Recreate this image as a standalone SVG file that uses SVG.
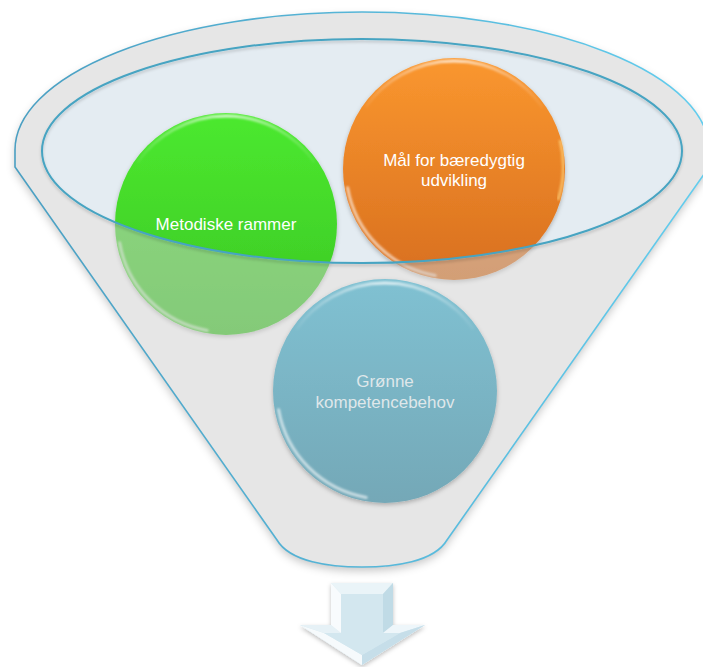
<svg xmlns="http://www.w3.org/2000/svg" width="703" height="667" viewBox="0 0 703 667">
<style>
.lbl{font-family:"Liberation Sans",Arial,sans-serif;font-size:17px;text-anchor:middle}
.w{fill:#ffffff}
.b{fill:#dfe7ea}
.rim{fill:none;stroke:#47a4c2;stroke-width:2}
.outline{fill:none;stroke:url(#outlineGrad);stroke-width:1.6}
.glossTop{fill:none;stroke:url(#glossTopGrad);stroke-width:3}
.glossBot{fill:none;stroke:#ffffff;stroke-opacity:0.6;stroke-width:3;stroke-linecap:round}
</style>
<defs>
<filter id="shadow" x="-10%" y="-10%" width="120%" height="125%">
<feDropShadow dx="0" dy="4" stdDeviation="4" flood-color="#000" flood-opacity="0.22"/>
</filter>
<filter id="cshadow" x="-10%" y="-10%" width="120%" height="125%">
<feDropShadow dx="0" dy="2" stdDeviation="2" flood-color="#000" flood-opacity="0.25"/>
</filter>
<filter id="rimShadow" x="-5%" y="-10%" width="110%" height="125%">
<feDropShadow dx="0" dy="2" stdDeviation="1.5" flood-color="#000" flood-opacity="0.2"/>
</filter>
<filter id="soft"><feGaussianBlur stdDeviation="0.8"/></filter>
<linearGradient id="outlineGrad" x1="0" y1="0" x2="1" y2="0">
<stop offset="0" stop-color="#4a9fc2"/>
<stop offset="1" stop-color="#62cdee"/>
</linearGradient>
<linearGradient id="greenGrad" x1="0" y1="0" x2="0" y2="1">
<stop offset="0" stop-color="#4ce92f"/>
<stop offset="1" stop-color="#3bc624"/>
</linearGradient>
<linearGradient id="orangeGrad" x1="0" y1="0" x2="0" y2="1">
<stop offset="0" stop-color="#fa972f"/>
<stop offset="1" stop-color="#d86f1f"/>
</linearGradient>
<linearGradient id="blueGrad" x1="0" y1="0" x2="0" y2="1">
<stop offset="0" stop-color="#80c1d2"/>
<stop offset="1" stop-color="#74a8b7"/>
</linearGradient>
<linearGradient id="glossTopGrad" gradientUnits="userSpaceOnUse" x1="-95" y1="0" x2="95" y2="0">
<stop offset="0" stop-color="#fff" stop-opacity="0"/>
<stop offset="0.5" stop-color="#fff" stop-opacity="0.75"/>
<stop offset="1" stop-color="#fff" stop-opacity="0"/>
</linearGradient>
<g id="gloss" filter="url(#soft)">
<path class="glossTop" d="M -88.5 -61.9 A 108 108 0 0 1 88.5 -61.9"/>
<path class="glossBot" d="M -106.4 18.8 A 108 108 0 0 0 -18.8 106.4"/>
</g>
</defs>

<g id="funnel-back">
<path filter="url(#shadow)" fill="#ffffff" d="M 15 150 A 347 138 0 0 1 709 150 L 709 167 L 447 540 C 434 562 394 567 362 567 C 330 567 290 562 277 540 L 15 167 Z"/>
<ellipse cx="362" cy="151" rx="320" ry="112" fill="#e4ecf2"/>
</g>

<g id="node-metodiske">
<circle cx="226" cy="224" r="111" fill="url(#greenGrad)" filter="url(#cshadow)"/>
<use href="#gloss" transform="translate(226,224)"/>
<text class="lbl w" x="226" y="230">Metodiske rammer</text>
</g>

<g id="node-maal">
<circle cx="454" cy="169" r="111" fill="url(#orangeGrad)" filter="url(#cshadow)"/>
<use href="#gloss" transform="translate(454,169)"/>
<path d="M 560 140 A 108 108 0 0 1 558 200" fill="none" stroke="#ffd27a" stroke-opacity="0.7" stroke-width="3" filter="url(#soft)"/>
<text class="lbl w" x="454" y="166">Mål for bæredygtig</text>
<text class="lbl w" x="454" y="186">udvikling</text>
</g>

<g id="funnel-front">
<path fill="#cdcdcd" fill-opacity="0.5" fill-rule="evenodd" d="M 15 150 A 347 138 0 0 1 709 150 L 709 167 L 447 540 C 434 562 394 567 362 567 C 330 567 290 562 277 540 L 15 167 Z M 42 151 A 320 112 0 1 0 682 151 A 320 112 0 1 0 42 151 Z"/>
<ellipse class="rim" cx="362" cy="151" rx="320" ry="112" filter="url(#rimShadow)"/>
<path class="outline" d="M 15 150 A 347 138 0 0 1 709 150 L 709 167 L 447 540 C 434 562 394 567 362 567 C 330 567 290 562 277 540 L 15 167 Z"/>
</g>

<g id="node-groenne">
<circle cx="385" cy="391" r="112" fill="url(#blueGrad)" filter="url(#cshadow)"/>
<use href="#gloss" transform="translate(385,391)"/>
<text class="lbl b" x="385" y="387">Grønne</text>
<text class="lbl b" x="385" y="408">kompetencebehov</text>
</g>

<g id="connectors">
<g id="output-arrow" filter="url(#cshadow)">
<polygon points="331,583 393,583 393,625 425,625 362,665 300,625 331,625" fill="#d6e9f1"/>
<polygon points="331,583 393,583 383,594 341,594" fill="#eaf4f8"/>
<polygon points="393,583 393,625 383,633 383,594" fill="#c0dbe6"/>
<polygon points="393,625 425,625 400,633 383,633" fill="#eef6fa"/>
<polygon points="425,625 362,665 362,655 400,633" fill="#c6dee9"/>
<polygon points="362,665 300,625 324,633 362,655" fill="#f6fafc"/>
<polygon points="300,625 331,625 341,633 324,633" fill="#e6f1f6"/>
<polygon points="331,625 331,583 341,594 341,633" fill="#f8fbfd"/>
<polygon points="341,594 383,594 383,633 400,633 362,655 324,633 341,633" fill="#d3e7ef"/>
</g>
</g>
</svg>
